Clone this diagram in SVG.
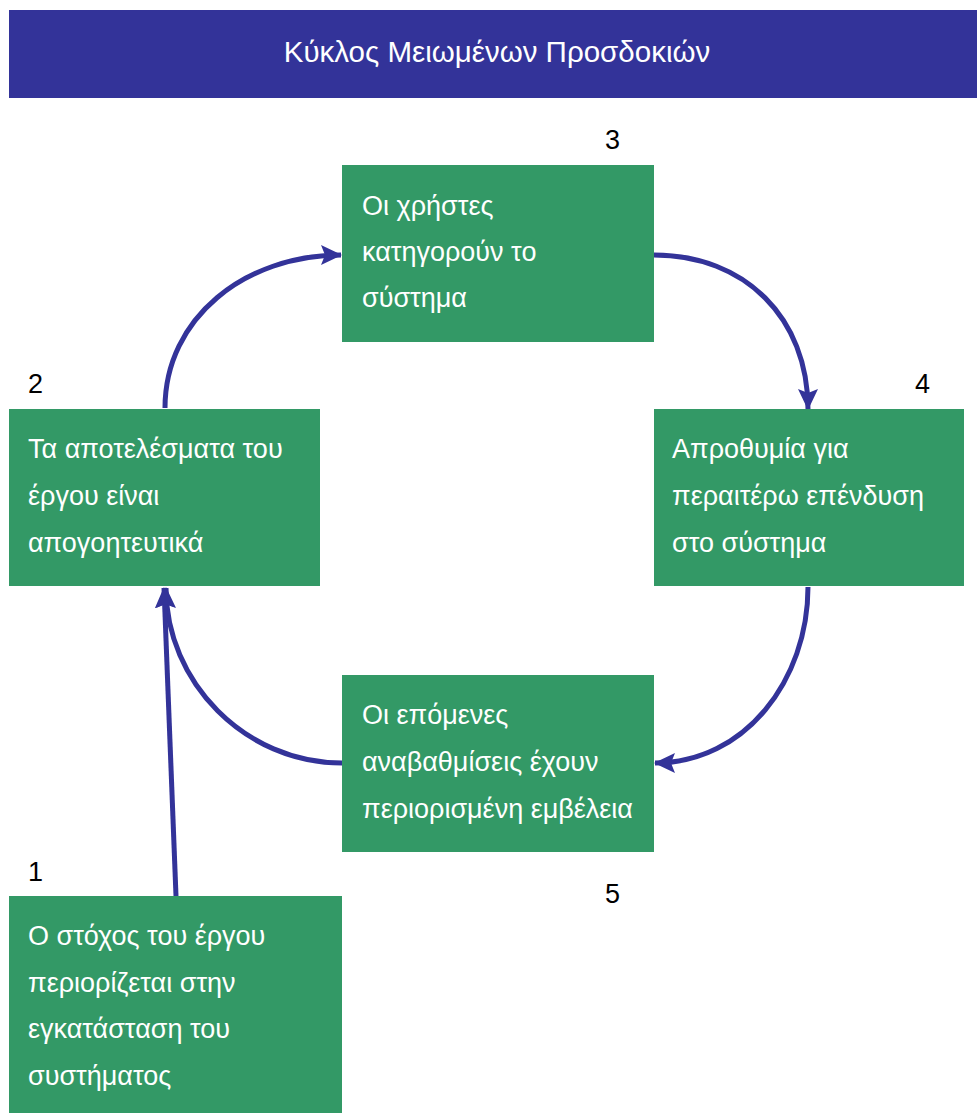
<svg xmlns="http://www.w3.org/2000/svg" width="977" height="1113" viewBox="0 0 977 1113">
<defs>
<style>
.box{fill:#339966}
.num{fill:#ffffff}
.t{font-family:"Liberation Sans",Arial,sans-serif;font-size:27px;fill:#ffffff}
.n{font-family:"Liberation Sans",Arial,sans-serif;font-size:27px;fill:#000000}
.title{font-family:"Liberation Sans",Arial,sans-serif;font-size:29.5px;fill:#ffffff}
.c{fill:none;stroke:#333399;stroke-width:5}
</style>
<marker id="ah" markerUnits="userSpaceOnUse" markerWidth="22" markerHeight="22" viewBox="0 0 22 22" refX="20" refY="11" orient="auto">
<path d="M0,1 L21,11 L0,21 L4,11 Z" fill="#333399"/>
</marker>
</defs>
<rect width="977" height="1113" fill="#ffffff"/>
<g id="title">
<rect x="9" y="10" width="968" height="88" fill="#333399"/>
<text class="title" x="497" y="62" text-anchor="middle">Κύκλος Μειωμένων Προσδοκιών</text>
</g>
<g id="connectors">
<path class="c" d="M165,408 C165,318 245,255 341,255" marker-end="url(#ah)"/>
<path class="c" d="M654,255 C745,255 808,318 808,409" marker-end="url(#ah)"/>
<path class="c" d="M808,587 C808,680 745,763 655,763" marker-end="url(#ah)"/>
<path class="c" d="M342,763 C245,763 166,682 166,588" marker-end="url(#ah)"/>
<path class="c" d="M176,896 L164,588" marker-end="url(#ah)"/>
</g>
<g id="node1">
<rect class="num" x="9" y="829" width="67" height="67"/>
<text class="n" x="28" y="881">1</text>
<rect class="box" x="9" y="896" width="333" height="217"/>
<text class="t" x="28" y="945">Ο στόχος του έργου</text>
<text class="t" x="28" y="992">περιορίζεται στην</text>
<text class="t" x="28" y="1038">εγκατάσταση του</text>
<text class="t" x="28" y="1085">συστήματος</text>
</g>
<g id="node2">
<rect class="num" x="9" y="342" width="67" height="67"/>
<text class="n" x="28" y="393">2</text>
<rect class="box" x="9" y="409" width="311" height="177"/>
<text class="t" x="28" y="458">Τα αποτελέσματα του</text>
<text class="t" x="28" y="505">έργου είναι</text>
<text class="t" x="28" y="552">απογοητευτικά</text>
</g>
<g id="node3">
<rect class="num" x="586" y="98" width="67" height="67"/>
<text class="n" x="605" y="149">3</text>
<rect class="box" x="342" y="165" width="312" height="177"/>
<text class="t" x="362" y="215">Οι χρήστες</text>
<text class="t" x="362" y="261">κατηγορούν το</text>
<text class="t" x="362" y="307">σύστημα</text>
</g>
<g id="node4">
<rect class="num" x="897" y="342" width="67" height="67"/>
<text class="n" x="915" y="393">4</text>
<rect class="box" x="654" y="409" width="310" height="177"/>
<text class="t" x="672" y="458">Απροθυμία για</text>
<text class="t" x="672" y="505">περαιτέρω επένδυση</text>
<text class="t" x="672" y="552">στο σύστημα</text>
</g>
<g id="node5">
<rect class="box" x="342" y="675" width="312" height="177"/>
<text class="t" x="362" y="724">Οι επόμενες</text>
<text class="t" x="362" y="771">αναβαθμίσεις έχουν</text>
<text class="t" x="362" y="818">περιορισμένη εμβέλεια</text>
<rect class="num" x="586" y="852" width="67" height="66"/>
<text class="n" x="605" y="903">5</text>
</g>
</svg>
